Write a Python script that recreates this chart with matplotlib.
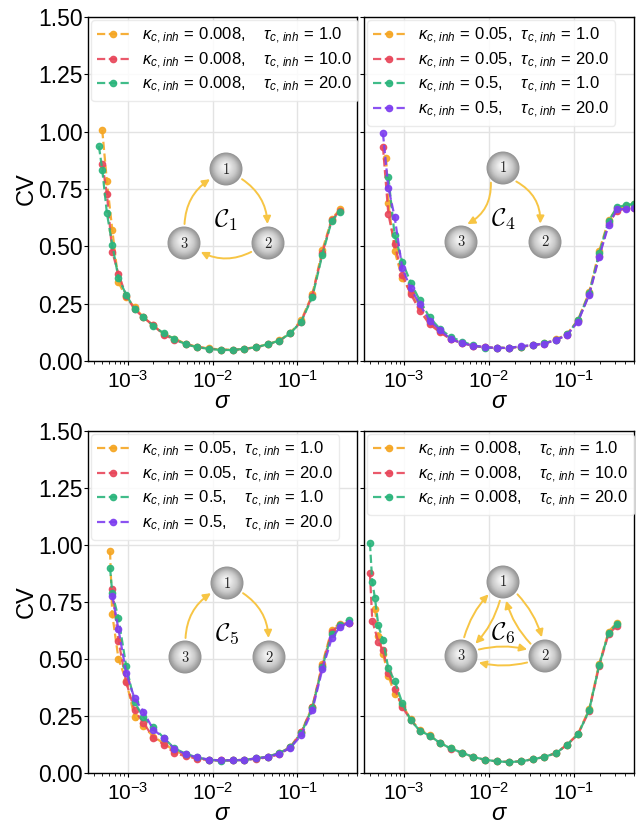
import numpy as np
import matplotlib
matplotlib.use("Agg")
from matplotlib import pyplot as plt
from matplotlib.patches import Circle, FancyArrowPatch
from matplotlib.colors import to_rgb

n = np.nan

# noise amplitudes, one shared grid (nan = no run at that sigma)
sigma = [3.98e-4, 4.24e-4, 4.56e-4, 4.99e-4, 5.66e-4, 6.17e-4, 6.55e-4, 7.76e-4,
         9.55e-4, 1.20e-3, 1.53e-3, 2.00e-3, 2.65e-3, 3.54e-3, 4.81e-3, 6.55e-3,
         9.06e-3, 1.24e-2, 1.72e-2, 2.36e-2, 3.27e-2, 4.48e-2, 6.14e-2, 8.28e-2,
         0.111, 0.150, 0.197, 0.254, 0.318, 0.406, 0.508]

# motif C1
cv_c1_t1 = [n, n, n, 1.007, 0.785, n, 0.573, 0.343, 0.277, 0.235, 0.190, 0.155, 0.118, 0.098, 0.075, 0.062,
            0.055, 0.050, 0.049, 0.053, 0.061, 0.073, 0.090, 0.123, 0.178, 0.290, 0.483, 0.620, 0.661, n, n]
cv_c1_t10 = [n, n, n, 0.861, 0.730, n, 0.476, 0.379, 0.285, 0.225, 0.190, 0.155, 0.115, 0.093, 0.074, 0.061,
             0.054, 0.049, 0.048, 0.052, 0.060, 0.072, 0.088, 0.120, 0.172, 0.285, 0.470, 0.615, 0.655, n, n]
cv_c1_t20 = [n, n, 0.937, 0.835, 0.646, n, 0.507, 0.362, 0.289, 0.227, 0.191, 0.152, 0.121, 0.096, 0.073, 0.060,
             0.053, 0.048, 0.048, 0.053, 0.060, 0.073, 0.089, 0.121, 0.172, 0.278, 0.464, 0.612, 0.650, n, n]

# motif C4
cv_c4_k05_t1 = [n, n, n, n, n, 0.884, 0.688, 0.480, 0.360, 0.300, 0.235, 0.168, 0.130, 0.094, 0.078, 0.066,
                0.059, 0.057, 0.058, 0.063, 0.069, 0.077, 0.094, 0.118, 0.180, 0.300, 0.480, 0.615, 0.665, 0.675, 0.685]
cv_c4_k05_t20 = [n, n, n, n, 0.935, n, 0.641, 0.510, 0.375, 0.292, 0.220, 0.160, 0.125, 0.095, 0.080, 0.066,
                 0.060, 0.057, 0.057, 0.062, 0.068, 0.076, 0.092, 0.115, 0.175, 0.290, 0.460, 0.600, 0.655, 0.665, 0.668]
cv_c4_k5_t1 = [n, n, n, n, n, n, 0.804, 0.549, 0.433, 0.342, 0.265, 0.190, 0.140, 0.105, 0.085, 0.068,
               0.058, 0.057, 0.058, 0.063, 0.069, 0.077, 0.093, 0.116, 0.177, 0.295, 0.470, 0.610, 0.670, 0.680, 0.685]
cv_c4_k5_t20 = [n, n, n, n, 0.993, n, 0.756, 0.629, 0.404, 0.317, 0.247, 0.176, 0.135, 0.096, 0.077, 0.067,
                0.060, 0.057, 0.057, 0.064, 0.070, 0.076, 0.092, 0.113, 0.172, 0.288, 0.455, 0.593, 0.661, 0.663, 0.666]

# motif C5
cv_c5_k05_t1 = [n, n, n, n, n, 0.972, 0.697, 0.500, 0.405, 0.245, 0.205, 0.160, 0.130, 0.098, 0.078, 0.066,
                0.058, 0.055, 0.055, 0.058, 0.064, 0.072, 0.087, 0.115, 0.180, 0.290, 0.480, 0.628, 0.655, 0.660, n]
cv_c5_k05_t20 = [n, n, n, n, n, n, 0.806, 0.580, 0.400, 0.275, 0.220, 0.155, 0.125, 0.088, 0.073, 0.063,
                 0.056, 0.055, 0.056, 0.058, 0.062, 0.068, 0.082, 0.112, 0.178, 0.290, 0.470, 0.620, 0.650, 0.660, n]
cv_c5_k5_t1 = [n, n, n, n, n, 0.900, 0.790, 0.678, 0.470, 0.310, 0.245, 0.200, 0.155, 0.108, 0.085, 0.068,
               0.058, 0.054, 0.056, 0.057, 0.064, 0.072, 0.088, 0.112, 0.174, 0.285, 0.465, 0.610, 0.648, 0.672, n]
cv_c5_k5_t20 = [n, n, n, n, n, n, 0.778, 0.630, 0.440, 0.327, 0.269, 0.190, 0.155, 0.105, 0.082, 0.068,
                0.059, 0.055, 0.056, 0.057, 0.064, 0.070, 0.085, 0.111, 0.165, 0.275, 0.455, 0.590, 0.640, 0.660, n]

# motif C6
cv_c6_t1 = [n, n, 0.720, 0.600, 0.523, n, 0.427, 0.347, 0.300, 0.235, 0.190, 0.165, 0.133, 0.108, 0.088, 0.070,
            0.058, 0.051, 0.049, 0.052, 0.061, 0.071, 0.088, 0.125, 0.172, 0.280, 0.480, 0.620, 0.660, n, n]
cv_c6_t10 = [0.876, 0.668, n, 0.576, 0.539, n, 0.440, 0.370, 0.290, 0.232, 0.186, 0.162, 0.130, 0.107, 0.088, 0.070,
             0.057, 0.051, 0.049, 0.051, 0.060, 0.070, 0.088, 0.124, 0.170, 0.272, 0.470, 0.610, 0.645, n, n]
cv_c6_t20 = [1.009, 0.837, 0.767, 0.648, 0.583, n, 0.459, 0.405, 0.307, 0.231, 0.186, 0.164, 0.132, 0.108, 0.089, 0.070,
             0.058, 0.051, 0.048, 0.051, 0.060, 0.071, 0.087, 0.125, 0.169, 0.275, 0.474, 0.616, 0.655, n, n]

ORANGE = '#f5a623'
RED = '#e8475b'
GREEN = '#2bb57c'
PURPLE = '#7e3ff0'
ARROW = '#f7c544'

plt.rcParams['font.family'] = ['Liberation Sans', 'DejaVu Sans']
plt.rcParams['mathtext.fontset'] = 'custom'
plt.rcParams['mathtext.rm'] = 'Liberation Sans'
plt.rcParams['mathtext.it'] = 'Liberation Sans:italic'
plt.rcParams['mathtext.bf'] = 'Liberation Sans:bold'


def lab(k, t, gap):
    return (r'$\kappa_{c,\,inh}\,=\,' + k + '$,' + ' ' * gap +
            r'$\tau_{c,\,inh}\,=\,' + t + '$')


def sphere(ax, x, y, R, num):
    edge = np.array(to_rgb('#949494'))
    mid = np.array(to_rgb('#cbcbcb'))
    top = np.array(to_rgb('#f2f2f2'))
    k = 16
    for i in range(k):
        f = i / (k - 1)
        if f < 0.45:
            c = edge + (mid - edge) * (f / 0.45)
        else:
            c = mid + (top - mid) * ((f - 0.45) / 0.55)
        ax.add_patch(Circle((x - 0.04 * R * f, y + 0.15 * R * f), R * (1 - 0.8 * f),
                            facecolor=c, edgecolor='none', zorder=3 + i * 0.01))
    ax.text(x, y, '$' + num + '$', math_fontfamily='cm', fontsize=10.5,
            ha='center', va='center', color='#222222', zorder=4)


def arrow(ax, a, b, R, th, rad):
    a = np.array(a, float)
    b = np.array(b, float)
    d = (b - a) / np.linalg.norm(b - a)
    t = np.radians(th)
    rot = lambda v, s: np.array([v[0] * np.cos(s) - v[1] * np.sin(s), v[0] * np.sin(s) + v[1] * np.cos(s)])
    p0 = a + (R + 2.5) * rot(d, t)
    p1 = b + (R + 2.5) * rot(-d, -t)
    ax.add_patch(FancyArrowPatch(p0, p1, connectionstyle='arc3,rad=%g' % rad,
                                 arrowstyle='-|>', mutation_scale=11, lw=1.4,
                                 color=ARROW, shrinkA=0, shrinkB=0, zorder=2))


def motif(fig, cx, cy, edges, name):
    W, H = 637.0, 824.0
    ax = fig.add_axes([(cx - 70) / W, 1 - (cy + 60) / H, 140 / W, 120 / H])
    ax.set_xlim(-70, 70)
    ax.set_ylim(-60, 60)
    ax.axis('off')
    R = 16.5
    pos = {1: (0, 37), 2: (42, -37), 3: (-42, -37)}
    for a, b, th, rad in edges:
        arrow(ax, pos[a], pos[b], R, th, rad)
    for k, (x, y) in pos.items():
        sphere(ax, x, y, R, str(k))
    ax.text(0, -14, r'$\mathcal{C}_{\mathit{' + name + '}}$', math_fontfamily='cm',
            fontsize=18, ha='center', va='center', zorder=5)


panels = [
    ([cv_c1_t1, cv_c1_t10, cv_c1_t20], [ORANGE, RED, GREEN],
     [lab('0.008', '1.0', 4), lab('0.008', '10.0', 4), lab('0.008', '20.0', 4)]),
    ([cv_c4_k05_t1, cv_c4_k05_t20, cv_c4_k5_t1, cv_c4_k5_t20], [ORANGE, RED, GREEN, PURPLE],
     [lab('0.05', '1.0', 2), lab('0.05', '20.0', 2), lab('0.5', '1.0', 4), lab('0.5', '20.0', 4)]),
    ([cv_c5_k05_t1, cv_c5_k05_t20, cv_c5_k5_t1, cv_c5_k5_t20], [ORANGE, RED, GREEN, PURPLE],
     [lab('0.05', '1.0', 2), lab('0.05', '20.0', 2), lab('0.5', '1.0', 4), lab('0.5', '20.0', 4)]),
    ([cv_c6_t1, cv_c6_t10, cv_c6_t20], [ORANGE, RED, GREEN],
     [lab('0.008', '1.0', 4), lab('0.008', '10.0', 4), lab('0.008', '20.0', 4)]),
]

# axes boxes in pixels: left, top, right, bottom
boxes = [(88, 17, 357, 361), (364, 17, 634, 361), (88, 431, 357, 773), (364, 431, 634, 773)]

fig = plt.figure(figsize=(6.37, 8.24), dpi=100)
x = np.array(sigma)
for i, (series, cols, labels) in enumerate(panels):
    l, t, r, b = boxes[i]
    ax = fig.add_axes([l / 637, 1 - b / 824, (r - l) / 637, (b - t) / 824])
    for y, c, lb in zip(series, cols, labels):
        y = np.array(y)
        m = ~np.isnan(y)
        ax.plot(x[m], y[m], '--', color=c, lw=1.6, marker='o', ms=4.5, alpha=0.9, label=lb)
    ax.set_xscale('log')
    ax.set_xlim(3.39e-4, 0.505)
    ax.set_ylim(0, 1.5)
    ax.set_yticks([0, 0.25, 0.5, 0.75, 1.0, 1.25, 1.5])
    ax.set_xticks([1e-3, 1e-2, 1e-1])
    ax.grid(True, which='major', color='#e3e3e3', lw=1.0)
    ax.set_axisbelow(True)
    for s in ax.spines.values():
        s.set_color('black')
        s.set_linewidth(1.0)
    ax.tick_params(axis='both', which='major', length=3, width=0.8)
    ax.tick_params(axis='x', which='major', labelsize=15)
    ax.tick_params(axis='y', labelsize=16.5, pad=1)
    ax.tick_params(axis='x', which='minor', length=2, width=0.6)
    ax.set_xlabel(r'$\sigma$', fontsize=17, labelpad=-1)
    if i % 2 == 0:
        ax.yaxis.set_major_formatter(matplotlib.ticker.FormatStrFormatter('%.2f'))
        ax.set_ylabel('CV', fontsize=17, labelpad=0)
    else:
        ax.set_yticklabels([])
    ax.legend(loc='upper left', bbox_to_anchor=(0, 1), fontsize=12, handlelength=1.9,
              handletextpad=0.8, labelspacing=0.25, borderaxespad=0.2, borderpad=0.35,
              framealpha=0.85, edgecolor='#e8e8e8', facecolor='white')

motif(fig, 226, 206, [(1, 2, 28, -0.25), (2, 3, 28, -0.25), (3, 1, 28, -0.25)], '1')
motif(fig, 503, 205, [(1, 3, -10, -0.3), (1, 2, 15, -0.3)], '4')
motif(fig, 227, 620, [(3, 1, 28, -0.25), (1, 2, 28, -0.25)], '5')
motif(fig, 503, 619, [(1, 2, 20, -0.12), (2, 1, 20, -0.12), (1, 3, 20, -0.12),
                      (3, 1, 20, -0.12), (2, 3, 20, -0.12), (3, 2, 20, -0.12)], '6')

fig.savefig('out.png', dpi=100)
